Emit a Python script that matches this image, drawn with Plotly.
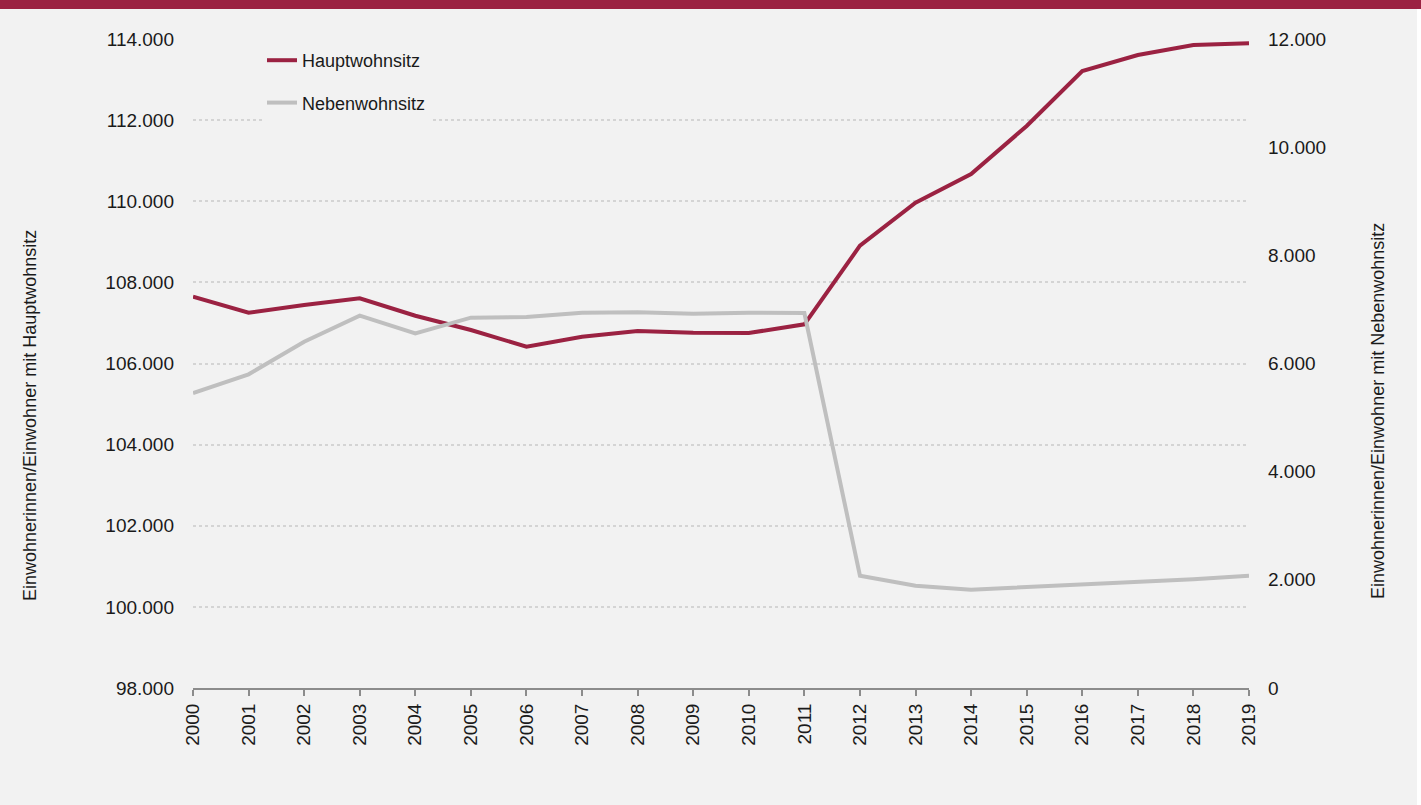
import plotly.graph_objects as go

years = list(range(2000, 2020))
haupt = [107647, 107252, 107442, 107607, 107178, 106826, 106414, 106661, 106801, 106759,
         106752, 106966, 108904, 109964, 110672, 111855, 113211, 113606, 113852, 113894]
neben = [5454, 5800, 6403, 6884, 6558, 6847, 6860, 6939, 6946, 6921,
         6939, 6934, 2076, 1891, 1817, 1867, 1904, 1966, 2010, 2076]

left_ticks = list(range(98000, 114001, 2000))
right_ticks = list(range(0, 12001, 2000))

def fmt(v):
    return f"{v:,}".replace(",", ".")

MAROON = "#9b2242"
GREY = "#bfbfbf"
FONT = "Liberation Sans"

fig = go.Figure()
fig.add_trace(go.Scatter(x=years, y=haupt, name="Hauptwohnsitz", mode="lines",
                         line=dict(color=MAROON, width=4), legendgroup="a"))
fig.add_trace(go.Scatter(x=years, y=neben, name="Nebenwohnsitz", mode="lines",
                         line=dict(color=GREY, width=4), yaxis="y2", legendgroup="b"))

W, H = 1421, 805
L, R, T, B = 193, 172, 39, 117
pw, ph = W - L - R, H - T - B

def px(xp):
    return (xp - L) / pw

def py(yp):
    return (H - B - yp) / ph

fig.update_layout(
    width=W, height=H,
    margin=dict(l=L, r=R, t=T, b=B),
    paper_bgcolor="#f2f2f2", plot_bgcolor="#f2f2f2",
    font=dict(family=FONT, size=19, color="#1a1a1a"),
    showlegend=True,
    legend=dict(x=px(262), y=py(42), xanchor="left", yanchor="top",
                bgcolor="#f2f2f2", font=dict(size=18, family=FONT),
                traceorder="grouped", tracegroupgap=16),
    xaxis=dict(range=[2000, 2019], tickvals=years, ticktext=[str(y) for y in years],
               tickangle=-90, showgrid=False, zeroline=False,
               showline=True, linecolor="#8c8c8c", linewidth=2,
               ticks="outside", ticklen=6, tickwidth=2, tickcolor="#8c8c8c",
               tickfont=dict(size=19)),
    yaxis=dict(range=[98000, 114000], tickvals=left_ticks,
               ticktext=[fmt(v) for v in left_ticks],
               showgrid=True, gridcolor="#d4d4d4", gridwidth=2, griddash="dot",
               zeroline=False, showline=False, ticks="", ticklabelstandoff=18,
               tickfont=dict(size=19)),
    yaxis2=dict(range=[0, 12000], tickvals=right_ticks,
                ticktext=[fmt(v) for v in right_ticks],
                overlaying="y", side="right", showgrid=False, zeroline=False,
                showline=False, ticks="", ticklabelstandoff=18,
                tickfont=dict(size=19)),
    shapes=[
        dict(type="rect", xref="paper", yref="paper", x0=px(1417), x1=px(1425),
             y0=py(810), y1=py(0), fillcolor="#ffffff", line=dict(width=0), layer="below"),
        dict(type="rect", xref="paper", yref="paper", x0=px(-5), x1=px(1425),
             y0=py(9), y1=py(-5), fillcolor="#9b2242", line=dict(width=0), layer="above"),
    ],
    annotations=[
        dict(text="Einwohnerinnen/Einwohner mit Hauptwohnsitz", xref="paper", yref="paper",
             x=px(30), y=py(416), textangle=-90, showarrow=False,
             font=dict(size=18, family=FONT), xanchor="center", yanchor="middle"),
        dict(text="Einwohnerinnen/Einwohner mit Nebenwohnsitz", xref="paper", yref="paper",
             x=px(1378), y=py(411), textangle=-90, showarrow=False,
             font=dict(size=18, family=FONT), xanchor="center", yanchor="middle"),
    ],
)

fig.write_html("out.html", config={"displayModeBar": False},
               post_script="document.body.style.margin='0';")
